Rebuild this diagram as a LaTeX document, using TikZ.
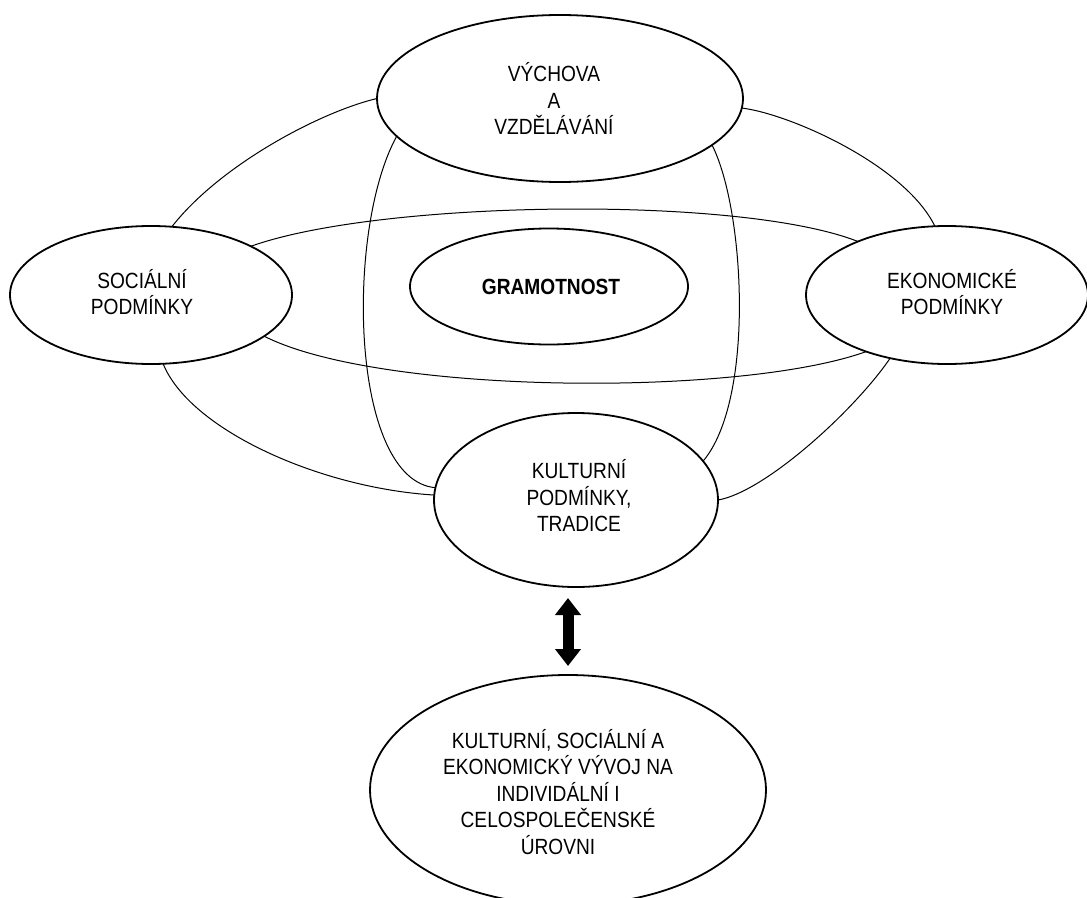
\documentclass[tikz,border=0pt]{standalone}
\usepackage{fontspec}
\setmainfont[FakeStretch=0.87]{Liberation Sans}
\usetikzlibrary{shapes.geometric,arrows.meta}
\begin{document}
\begin{tikzpicture}[x=1pt,y=-1pt,
  ell/.style={ellipse, draw, line width=1.8pt, fill=white, inner sep=0pt, outer sep=0pt},
  txt/.style={align=center, inner sep=0pt, font=\fontsize{22}{26.5}\selectfont},
  link/.style={line width=1pt},
  bigarrow/.style={line width=11pt, {Triangle[length=17pt,width=25pt]}-{Triangle[length=17pt,width=25pt]}}]
\useasboundingbox (0,0) rectangle (1087,897);

\node[ell, minimum width=366pt, minimum height=167pt,
  label={[txt, xshift=-6pt]center:{VÝCHOVA\\A\\VZDĚLÁVÁNÍ}}] (vych) at (560,98.5) {};
\node[ell, minimum width=282pt, minimum height=138pt,
  label={[txt, xshift=-9pt, yshift=3pt]center:{SOCIÁLNÍ\\PODMÍNKY}}] (soc) at (151,295) {};
\node[ell, minimum width=282pt, minimum height=138pt,
  label={[txt, xshift=5pt, yshift=3pt]center:{EKONOMICKÉ\\PODMÍNKY}}] (eko) at (947,295) {};
\node[ell, minimum width=278pt, minimum height=116pt,
  label={[txt, xshift=2pt]center:{\textbf{GRAMOTNOST}}}] (gram) at (549,286.5) {};
\node[ell, minimum width=284pt, minimum height=174pt,
  label={[txt, xshift=3pt, yshift=4pt]center:{KULTURNÍ\\PODMÍNKY,\\TRADICE}}] (kult) at (576,500) {};
\node[ell, minimum width=396pt, minimum height=230pt,
  label={[txt, xshift=-10pt, yshift=-2pt]center:{KULTURNÍ, SOCIÁLNÍ A\\EKONOMICKÝ VÝVOJ NA\\INDIVIDÁLNÍ I\\CELOSPOLEČENSKÉ\\ÚROVNI}}] (bot) at (568,790) {};

% outer loop
\draw[link] (vych.180) .. controls (320,112) and (220,165) .. (soc.73);
\draw[link] (vych.-3) .. controls (790,114) and (905,165) .. (eko.100);
\draw[link] (soc.-80) .. controls (190,430) and (320,488) .. (kult.178);
\draw[link] (kult.0) .. controls (765,492) and (855,410) .. (eko.228);
% horizontal loop
\draw[link] (soc.26) .. controls (380,200) and (740,195) .. (eko.149);
\draw[link] (soc.-20) .. controls (380,395) and (740,397) .. (eko.215);
% vertical loop
\draw[link] (vych.193) .. controls (345,230) and (350,480) .. (kult.175);
\draw[link] (vych.-17) .. controls (745,210) and (755,400) .. (kult.17);

% double arrow
\draw[bigarrow, shorten <=11pt, shorten >=9pt] (bot.north |- kult.south) -- (bot.north);
\end{tikzpicture}
\end{document}
